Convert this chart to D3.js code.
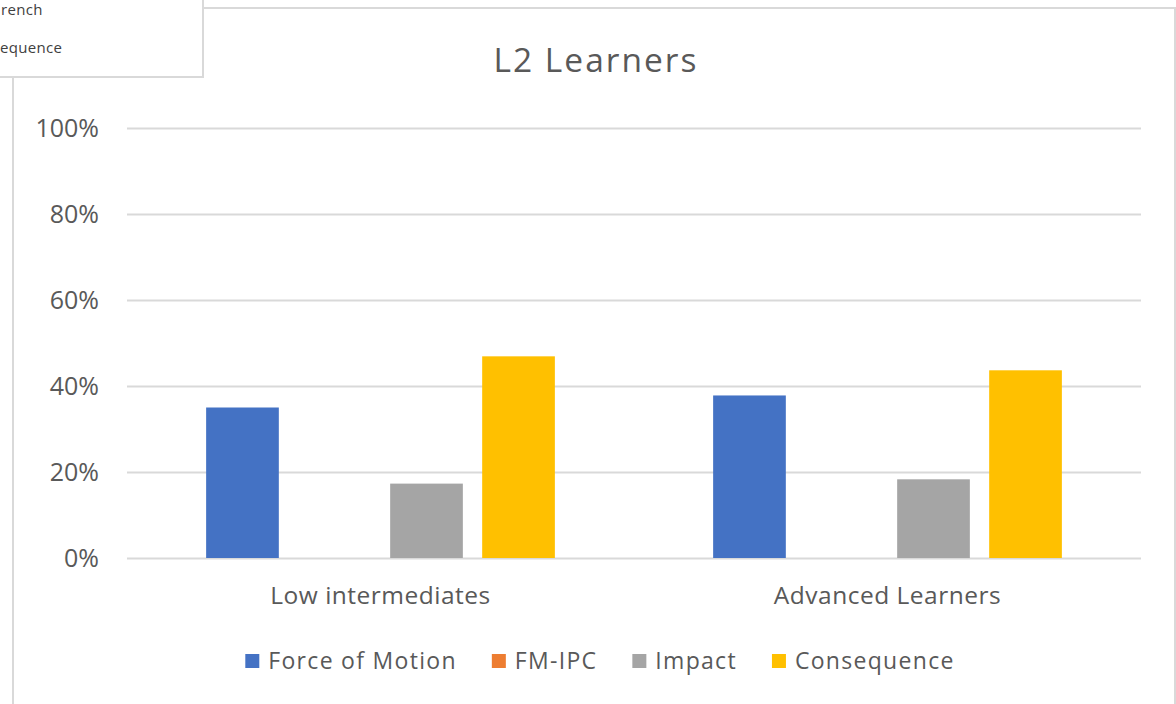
<!DOCTYPE html>
<html>
<head>
<meta charset="utf-8">
<script src="https://cdn.jsdelivr.net/npm/d3@7"></script>
<style>
  body { margin: 0; background: #fff; }
  svg { display: block; font-family: "Open Sans", "Noto Sans", sans-serif; }
</style>
</head>
<body>
<svg id="chart"></svg>
<script>
let categories = ['Low intermediates', 'Advanced Learners'];
let seriesNames = ['Force of Motion', 'FM-IPC', 'Impact', 'Consequence'];
let seriesColors = ['#4472c4', '#ed7d31', '#a5a5a5', '#ffc000'];
let forceOfMotion = [0.35, 0.378];
let fmIpc = [0, 0];
let impact = [0.173, 0.183];
let consequence = [0.469, 0.4365];
let yTicks = [0, 0.2, 0.4, 0.6, 0.8, 1];
let popupLines = ['rench', 'equence'];

let seriesValues = [forceOfMotion, fmIpc, impact, consequence];

let width = 1176;
let height = 704;
let plotLeft = 127;
let plotRight = 1141;
let plotTop = 128;
let plotBottom = 558;
let fontFamily = '"Open Sans", "Noto Sans", sans-serif';
let textColor = '#595959';
let lineColor = '#d9d9d9';

let svg = d3.select('#chart')
  .attr('width', width)
  .attr('height', height);

// chart frame (partly hidden behind the popup box)
svg.append('path')
  .attr('d', 'M13,' + height + ' L13,8 L1175,8 L1175,' + height)
  .attr('fill', 'none')
  .attr('stroke', lineColor)
  .attr('stroke-width', 2);

let x0 = d3.scaleBand()
  .domain(categories)
  .range([plotLeft, plotRight])
  .padding(0);

let x1 = d3.scaleBand()
  .domain(seriesNames)
  .range([0, x0.bandwidth()])
  .paddingInner(0.21)
  .paddingOuter(0.86);

let y = d3.scaleLinear()
  .domain([0, 1])
  .range([plotBottom, plotTop]);

// y axis with gridlines
let yAxis = d3.axisLeft(y)
  .tickValues(yTicks)
  .tickFormat(d3.format('.0%'))
  .tickSize(-(plotRight - plotLeft))
  .tickPadding(28);

let yG = svg.append('g')
  .attr('transform', 'translate(' + plotLeft + ',0)')
  .call(yAxis)
  .attr('font-family', fontFamily);
yG.select('.domain').remove();
yG.selectAll('.tick line')
  .attr('stroke', lineColor)
  .attr('stroke-width', 2);
yG.selectAll('.tick text')
  .attr('fill', textColor)
  .attr('dy', '0.34em')
  .style('font-size', '25px');

// bars
let groups = svg.append('g')
  .selectAll('g')
  .data(categories)
  .enter()
  .append('g')
  .attr('transform', d => 'translate(' + x0(d) + ',0)');

groups.selectAll('rect')
  .data((d, i) => seriesNames.map((s, j) => ({ series: s, value: seriesValues[j][i], color: seriesColors[j] })))
  .enter()
  .append('rect')
  .attr('x', d => x1(d.series))
  .attr('width', x1.bandwidth())
  .attr('y', d => y(d.value))
  .attr('height', d => y(0) - y(d.value))
  .attr('fill', d => d.color);

// x axis labels
let xAxis = d3.axisBottom(x0)
  .tickSize(0)
  .tickPadding(0);

let xG = svg.append('g')
  .attr('transform', 'translate(0,' + plotBottom + ')')
  .call(xAxis)
  .attr('font-family', fontFamily);
xG.select('.domain').remove();
xG.selectAll('.tick text')
  .attr('fill', textColor)
  .attr('y', 46)
  .attr('dy', 0)
  .style('font-size', '24.5px')
  .style('letter-spacing', '0.5px');

// title
svg.append('text')
  .attr('x', 596)
  .attr('y', 72)
  .attr('text-anchor', 'middle')
  .attr('fill', textColor)
  .style('font-size', '33.5px')
  .style('letter-spacing', '2px')
  .text('L2 Learners');

// legend
let legend = svg.append('g');
let items = legend.selectAll('g')
  .data(seriesNames)
  .enter()
  .append('g');

items.append('rect')
  .attr('width', 14)
  .attr('height', 14)
  .attr('y', -7)
  .attr('fill', (d, i) => seriesColors[i]);

items.append('text')
  .attr('x', 23)
  .attr('y', 8)
  .attr('fill', textColor)
  .style('font-size', '23px')
  .style('letter-spacing', '1.3px')
  .text(d => d);

let offset = 0;
items.each(function() {
  let w = this.getBBox().width;
  d3.select(this).attr('transform', 'translate(' + offset + ',0)');
  offset += w + 35;
});
let legendWidth = offset - 35;
legend.attr('transform', 'translate(' + (600 - legendWidth / 2) + ',661)');

// popup box over the top-left corner
let popup = svg.append('g');
popup.append('rect')
  .attr('x', -10)
  .attr('y', -10)
  .attr('width', 213)
  .attr('height', 87)
  .attr('fill', '#fff')
  .attr('stroke', lineColor)
  .attr('stroke-width', 2);

popup.selectAll('text')
  .data(popupLines)
  .enter()
  .append('text')
  .attr('x', (d, i) => i === 0 ? 1 : 0)
  .attr('y', (d, i) => 15 + i * 38)
  .attr('fill', '#404040')
  .style('font-size', '15px')
  .style('letter-spacing', '0.3px')
  .text(d => d);
</script>
</body>
</html>
